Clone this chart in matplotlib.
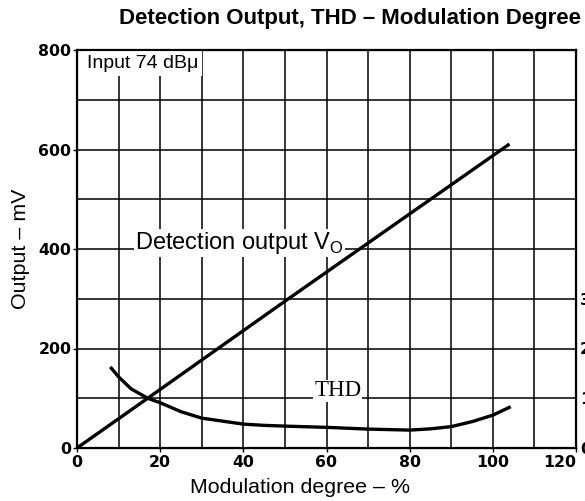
import numpy as np
import matplotlib
matplotlib.use("Agg")
import matplotlib.pyplot as plt

# modulation degree (%) vs detection output (mV)
mod_vo = [0, 17, 50, 104]
vo_mv = [0, 100, 295, 611]

# modulation degree (%) vs THD (%)
mod_thd = [8, 10, 13, 17, 20, 25, 30, 35, 40, 45, 50, 60, 70, 80, 85, 90, 95, 100, 104.3]
thd_pct = [1.63, 1.43, 1.19, 1.0, 0.91, 0.73, 0.60, 0.54, 0.48, 0.455, 0.44, 0.415, 0.38,
           0.36, 0.385, 0.43, 0.53, 0.66, 0.83]

x_ticks = [0, 20, 40, 60, 80, 100, 120]
y_ticks = [0, 200, 400, 600, 800]
thd_ticks = [0, 1, 2, 3]

sans = "Liberation Sans"
tick_font = dict(family="DejaVu Sans", weight="bold", size=11.3)

fig = plt.figure(figsize=(5.85, 5.01), dpi=100)
ax = fig.add_axes([77 / 585, 1 - 448 / 501, 499 / 585, 398 / 501])

ax.set_xlim(0, 120)
ax.set_ylim(0, 800)
ax.set_xticks(np.arange(0, 121, 10), minor=True)
ax.set_yticks(np.arange(0, 801, 100), minor=True)
ax.set_xticks(x_ticks)
ax.set_yticks(y_ticks)
ax.set_xticklabels([str(v) for v in x_ticks], fontdict=tick_font)
ax.set_yticklabels([str(v) for v in y_ticks], fontdict=tick_font)
ax.get_xticklabels()[-1].set_ha("right")
ax.grid(which="both", color="black", linewidth=1.1, zorder=1)
ax.tick_params(which="major", length=3, width=1, pad=1)
ax.tick_params(which="minor", length=0)
ax.tick_params(axis="x", which="major", pad=2)
for s in ax.spines.values():
    s.set_linewidth(1.6)

ax.plot(mod_vo, vo_mv, color="black", linewidth=2.4, solid_capstyle="butt", zorder=5)

thd_ax = ax.twinx()
thd_ax.set_ylim(0, 8)
thd_ax.set_yticks(thd_ticks)
thd_ax.set_yticklabels([str(v) for v in thd_ticks], fontdict=tick_font)
thd_ax.tick_params(length=0, pad=3)
thd_ax.plot(mod_thd, thd_pct, color="black", linewidth=2.4, solid_capstyle="butt", zorder=5)

# text labels on white patches that break the grid
ax.text(2.3, 790, "Input 74 dB\u03bc", family=sans, fontsize=14, va="top", ha="left",
        zorder=3, bbox=dict(facecolor="white", edgecolor="none", pad=3))
ax.text(14, 412, "Detection output V$_\\mathregular{O}$", family=sans, fontsize=17,
        va="center", ha="left", zorder=3,
        bbox=dict(facecolor="white", edgecolor="none", pad=1))
ax.text(62.7, 115, "THD", family="Liberation Serif", fontsize=16.5, va="center", ha="center",
        zorder=3, bbox=dict(facecolor="white", edgecolor="none", pad=0.5))

ax.set_xlabel("Modulation degree \u2013 %", family=sans, fontsize=15.4, labelpad=1)
ax.xaxis.set_label_coords((300 - 77) / 499, -0.075)
ax.set_ylabel("Output \u2013 mV", family=sans, fontsize=15.4, labelpad=6)
fig.text(0.598, 0.963, "Detection Output, THD \u2013 Modulation Degree", family=sans,
         weight="bold", fontsize=16, ha="center", va="center")

fig.savefig("out.png", dpi=100)
